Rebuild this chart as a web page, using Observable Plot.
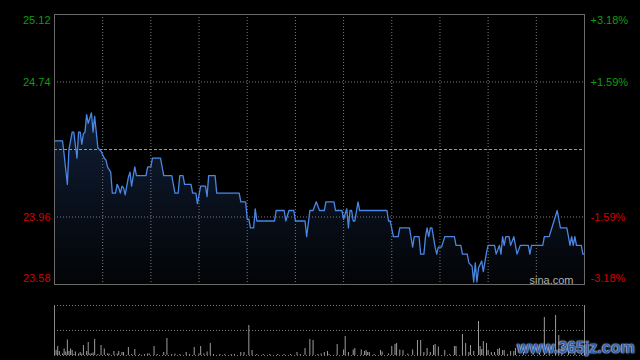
<!DOCTYPE html>
<html>
<head>
<meta charset="utf-8">
<script src="https://cdn.jsdelivr.net/npm/d3@7"></script>
<script src="https://cdn.jsdelivr.net/npm/@observablehq/plot@0.6"></script>
<style>
  html, body { margin: 0; padding: 0; background: #000; }
  #wrap { position: relative; width: 640px; height: 360px; overflow: hidden; background: #000; }
  #wrap svg { display: block; }
  #wm { position: absolute; left: 517px; top: 339px; font: bold 16px "Liberation Sans", Arial, sans-serif;
        color: #2f62b0; text-shadow: 0 0 2px #cfe0ff, 0 0 1px #ffffff; white-space: nowrap; }
</style>
</head>
<body>
<div id="wrap"><div id="wm">www.365jz.com</div></div>
<script>
// ---- data ----
const prevClose = 24.35;
const pctLevels = [3.18, 1.59, -1.59, -3.18];
const priceLabels = ["25.12", "24.74", "23.96", "23.58"];
const pctLabels = ["+3.18%", "+1.59%", "-1.59%", "-3.18%"];
const sessionMinutes = 330;
const gridMinutes = [30, 60, 90, 120, 150, 180, 210, 240, 270, 300];

const minutes = [0,5,6,8,9,11,12,14,15,16,17,18,19,20,21,23,24,25,27,29,31,32,33,35,36,38,39,40,41,42,43,44,46,47,48,50,51,57,58,60,61,66,68,73,75,77,78,80,81,85,86,88,89,91,94,95,96,100,101,115,116,119,120,121,122,124,125,126,137,138,143,144,146,149,150,156,157,159,161,163,165,168,169,174,175,179,180,182,183,184,185,186,187,189,190,207,208,209,211,214,215,221,223,224,227,228,230,231,232,233,234,235,237,238,239,241,243,249,250,253,254,257,258,260,261,262,263,264,266,267,269,270,274,275,277,278,279,280,281,283,284,286,288,290,295,296,297,304,305,308,311,313,315,319,321,322,323,324,325,328,329,330];
const prices = [24.40,24.40,24.32,24.15,24.35,24.45,24.45,24.30,24.45,24.45,24.38,24.44,24.45,24.55,24.50,24.56,24.45,24.54,24.36,24.34,24.30,24.29,24.25,24.22,24.10,24.10,24.15,24.13,24.10,24.14,24.13,24.09,24.19,24.22,24.14,24.25,24.20,24.20,24.25,24.25,24.30,24.30,24.20,24.20,24.10,24.10,24.20,24.20,24.15,24.15,24.10,24.10,24.04,24.14,24.14,24.08,24.20,24.20,24.10,24.10,24.05,24.05,23.95,23.95,23.90,23.90,24.01,23.94,23.94,24.00,24.00,23.94,24.00,24.00,23.94,23.94,23.85,24.00,24.00,24.05,24.00,24.00,24.05,24.05,24.00,24.00,23.95,24.01,23.90,24.00,24.00,23.94,23.94,24.05,24.00,24.00,23.94,23.94,23.85,23.85,23.90,23.90,23.79,23.85,23.85,23.75,23.75,23.85,23.90,23.85,23.90,23.90,23.79,23.75,23.79,23.79,23.85,23.85,23.80,23.80,23.75,23.75,23.70,23.68,23.59,23.70,23.59,23.67,23.71,23.65,23.76,23.80,23.80,23.75,23.80,23.75,23.85,23.80,23.85,23.85,23.80,23.85,23.75,23.80,23.80,23.75,23.80,23.80,23.85,23.85,23.94,24.00,23.90,23.90,23.80,23.85,23.80,23.85,23.80,23.80,23.75,23.75];

const volMinutes = [1,2,3,5,6,7,8,9,10,11,12,13,15,16,17,18,20,21,22,23,24,25,27,29,31,33,34,37,39,40,42,43,46,48,50,53,56,58,59,62,64,68,70,73,75,78,82,84,87,90,91,93,95,97,99,103,106,110,112,116,118,121,123,126,130,134,139,143,147,151,153,156,159,161,164,166,168,170,171,176,180,181,183,186,187,191,193,194,195,196,199,203,204,208,210,212,213,215,217,220,223,226,228,230,232,234,236,237,239,243,246,249,250,254,256,258,259,261,264,265,266,267,269,270,272,274,276,277,279,280,282,284,286,287,292,298,302,305,308,312,314,316,320,324,328];
const volumes = [10,18,8,3,13,7,31,8,13,10,2,7,3,6,3,20,8,26,3,3,5,32,2,20,13,3,3,8,3,8,6,6,16,2,12,2,2,3,3,18,2,6,34,2,3,2,6,2,16,3,18,3,7,24,2,2,2,2,2,6,6,60,10,2,2,2,2,2,2,6,2,14,32,30,2,3,6,8,2,22,11,38,6,11,14,11,8,10,6,6,2,10,7,3,18,22,24,11,10,3,11,30,30,6,14,6,20,22,17,10,2,18,18,42,24,6,20,8,68,18,12,28,24,10,6,6,12,14,10,10,2,8,8,14,6,8,10,76,12,80,40,16,10,8,6];
const volumeMax = 100;

// ---- derived tables ----
const series = minutes.map((m, i) => ({m, p: prices[i]}));
const vols = volMinutes.map((m, i) => ({m, v: volumes[i]}));
const yMin = prevClose * (1 + pctLevels[3] / 100);
const yMax = prevClose * (1 + pctLevels[0] / 100);
const levels = pctLevels.map((pc, i) => ({
  value: prevClose * (1 + pc / 100),
  price: priceLabels[i],
  pct: pctLabels[i],
  color: pc > 0 ? "#109c10" : "#d20000",
  dy: i === 0 ? 6 : i === 3 ? -6 : 0
}));

const font = "'Liberation Sans', Arial, sans-serif";
const gridStroke = "#7a7a7a";

const gradientDefs = () => {
  const defs = d3.create("svg:defs");
  const g = defs.append("linearGradient").attr("id", "pgrad").attr("x1", 0).attr("y1", 0).attr("x2", 0).attr("y2", 1);
  g.append("stop").attr("offset", "0%").attr("stop-color", "#0f1e36");
  g.append("stop").attr("offset", "100%").attr("stop-color", "#030406");
  return defs.node();
};

const labelMarks = levels.flatMap(l => [
  Plot.text([l], {y: "value", text: "price", frameAnchor: "left", textAnchor: "end", dx: -4, dy: l.dy, fill: l.color, fontSize: 11}),
  Plot.text([l], {y: "value", text: "pct", frameAnchor: "right", textAnchor: "start", dx: 6, dy: l.dy, fill: l.color, fontSize: 11})
]);

const main = Plot.plot({
  width: 640, height: 290,
  marginLeft: 54, marginRight: 56, marginTop: 14, marginBottom: 6,
  x: {domain: [0, sessionMinutes], axis: null},
  y: {domain: [yMin, yMax], axis: null},
  style: {background: "#000", fontFamily: font, overflow: "visible"},
  marks: [
    gradientDefs,
    Plot.areaY(series, {x: "m", y1: yMin, y2: "p", fill: "url(#pgrad)"}),
    Plot.ruleX(gridMinutes, {stroke: gridStroke, strokeDasharray: "1,2"}),
    Plot.ruleY([levels[1].value, levels[2].value], {stroke: gridStroke, strokeDasharray: "1,2"}),
    Plot.ruleY([prevClose], {stroke: "#9a9a9a", strokeDasharray: "3,2"}),
    Plot.lineY(series, {x: "m", y: "p", stroke: "#4a86e3", strokeWidth: 1.3}),
    Plot.frame({stroke: "#6a6a6a"}),
    Plot.text(["sina.com"], {frameAnchor: "bottom-right", dx: -11, dy: -1, lineAnchor: "bottom", fill: "#b0b0b0", fontSize: 11}),
    ...labelMarks
  ]
});

const vol = Plot.plot({
  width: 640, height: 70,
  marginLeft: 54, marginRight: 56, marginTop: 15, marginBottom: 5,
  x: {domain: [0, sessionMinutes], axis: null},
  y: {domain: [0, volumeMax], axis: null},
  style: {background: "#000", fontFamily: font},
  marks: [
    Plot.ruleY([0, volumeMax / 2, volumeMax], {stroke: gridStroke, strokeDasharray: "1,2"}),
    Plot.ruleX(vols, {x: "m", y1: 0, y2: "v", stroke: "#9c9c9c", strokeWidth: 1}),
    Plot.ruleX([0, sessionMinutes], {stroke: "#8a8a8a"})
  ]
});

const wrap = document.getElementById("wrap");
wrap.insertBefore(vol, wrap.firstChild);
wrap.insertBefore(main, wrap.firstChild);
</script>
</body>
</html>
